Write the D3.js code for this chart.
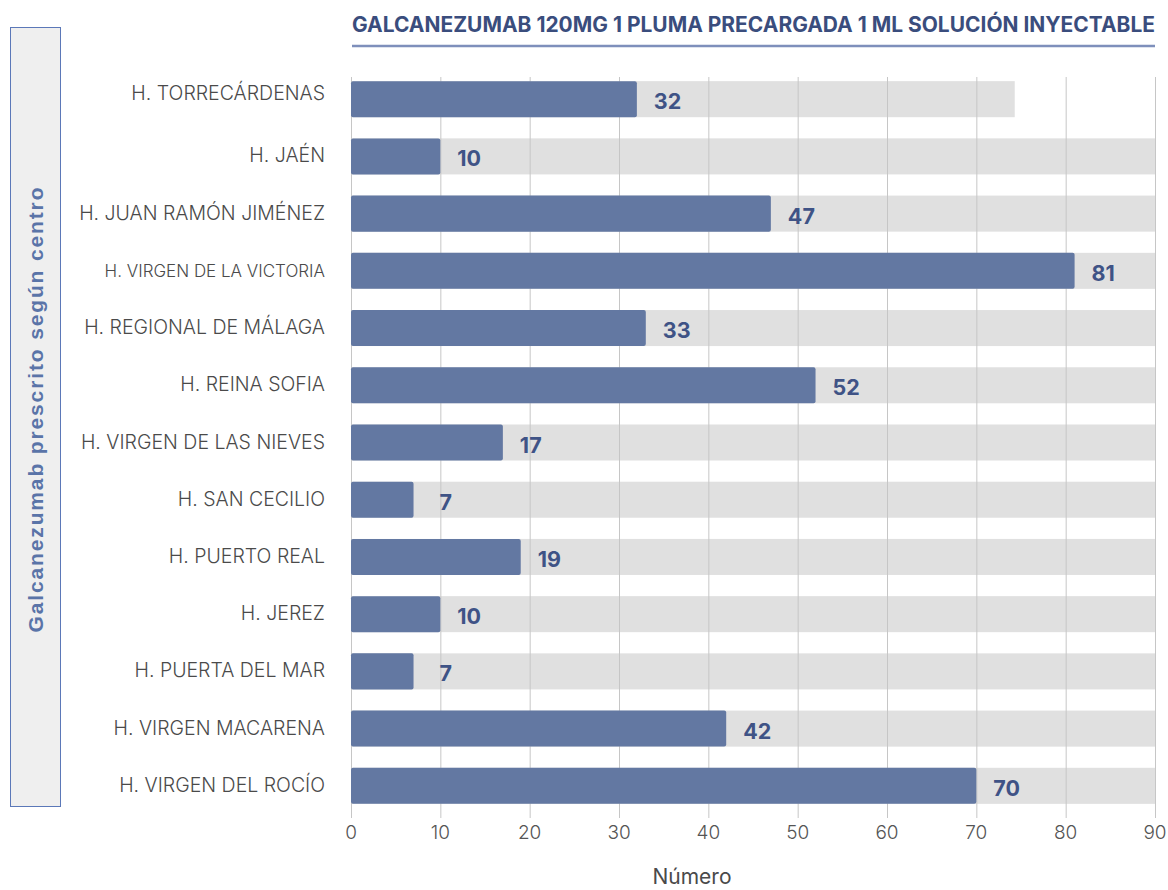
<!DOCTYPE html>
<html>
<head>
<meta charset="utf-8">
<script src="https://cdn.jsdelivr.net/npm/d3@7"></script>
<style>
  body { margin: 0; background: #fff; }
  svg { display: block; }
</style>
</head>
<body>
<div id="chart"></div>
<script>
// hospitals, top to bottom
const centros = [
  "H. TORRECÁRDENAS", "H. JAÉN", "H. JUAN RAMÓN JIMÉNEZ", "H. VIRGEN DE LA VICTORIA",
  "H. REGIONAL DE MÁLAGA", "H. REINA SOFIA", "H. VIRGEN DE LAS NIEVES", "H. SAN CECILIO",
  "H. PUERTO REAL", "H. JEREZ", "H. PUERTA DEL MAR", "H. VIRGEN MACARENA", "H. VIRGEN DEL ROCÍO"
];
const valores = [32, 10, 47, 81, 33, 52, 17, 7, 19, 10, 7, 42, 70];
// grey track behind each bar
const fondo = [74.3, 90, 90, 90, 90, 90, 90, 90, 90, 90, 90, 90, 90];
const ticks = [0, 10, 20, 30, 40, 50, 60, 70, 80, 90];

const titulo = "GALCANEZUMAB 120MG 1 PLUMA PRECARGADA 1 ML SOLUCIÓN INYECTABLE";
const ejeY = "Galcanezumab prescrito según centro";
const ejeX = "Número";

const W = 1168, H = 890;
const svg = d3.select("#chart").append("svg")
  .attr("width", W).attr("height", H)
  .style("font-family", "Inter, 'Open Sans', sans-serif");

const x = d3.scaleLinear().domain([0, 90]).range([351, 1155]);
const y = d3.scaleBand().domain(centros).range([72, 813]).paddingInner(0.37).paddingOuter(0.16);

// left side box
svg.append("rect")
  .attr("x", 10.5).attr("y", 27.5).attr("width", 50).attr("height", 779)
  .style("fill", "#efefef").style("stroke", "#5b78b8").style("stroke-width", 1);
svg.append("text")
  .attr("transform", "translate(43,410) rotate(-90)")
  .attr("text-anchor", "middle")
  .attr("textLength", 445).attr("lengthAdjust", "spacing")
  .style("font-family", "'Liberation Sans', Arial, sans-serif")
  .style("font-weight", "bold").style("font-size", "21px").style("fill", "#5a74a8")
  .text(ejeY);

// title + underline
svg.append("text")
  .attr("x", 352).attr("y", 32)
  .attr("textLength", 803).attr("lengthAdjust", "spacingAndGlyphs")
  .style("font-weight", "700").style("font-size", "21px").style("fill", "#3a4d7d")
  .text(titulo);
svg.append("line")
  .attr("x1", 352).attr("x2", 1155).attr("y1", 46).attr("y2", 46)
  .style("stroke", "#7e8fbb").style("stroke-width", 2.5);

// grey tracks
svg.append("g").selectAll("rect").data(centros).join("rect")
  .attr("x", x(0)).attr("y", d => y(d))
  .attr("width", (d, i) => x(fondo[i]) - x(0)).attr("height", y.bandwidth())
  .style("fill", "#e0e0e0");

// gridlines
svg.append("g").selectAll("line").data(ticks).join("line")
  .attr("x1", d => x(d) + 0.5).attr("x2", d => x(d) + 0.5)
  .attr("y1", 77).attr("y2", 818)
  .style("stroke", "#c6c6c6").style("stroke-width", 1);

// bars
svg.append("g").selectAll("rect").data(centros).join("rect")
  .attr("x", x(0)).attr("y", d => y(d))
  .attr("width", (d, i) => x(valores[i]) - x(0)).attr("height", y.bandwidth())
  .attr("rx", 2)
  .style("fill", "#6378a2");

// value labels
svg.append("g").selectAll("text").data(centros).join("text")
  .attr("x", (d, i) => x(valores[i]) + (valores[i] < 9 ? 26 : 17))
  .attr("y", d => y(d) + y.bandwidth() / 2 + 10)
  .style("font-weight", "700").style("font-size", "21.5px").style("fill", "#3f5386")
  .text((d, i) => valores[i]);

// category labels
svg.append("g").selectAll("text").data(centros).join("text")
  .attr("x", 325).attr("y", (d, i) => y(d) + y.bandwidth() / 2 + (i === 0 ? 1 : 6))
  .attr("text-anchor", "end")
  .style("font-size", d => d.length > 23 ? "17px" : "19.5px")
  .style("font-weight", "300")
  .style("fill", "#4a4a4a")
  .text(d => d);

// x axis tick labels
svg.append("g").selectAll("text").data(ticks).join("text")
  .attr("x", d => x(d)).attr("y", 839)
  .attr("text-anchor", "middle")
  .style("font-size", "19px").style("font-weight", "300").style("fill", "#555")
  .text(d => d);

svg.append("text")
  .attr("x", 692).attr("y", 884).attr("text-anchor", "middle")
  .style("font-size", "21px").style("fill", "#4a4a4a")
  .text(ejeX);
</script>
</body>
</html>
